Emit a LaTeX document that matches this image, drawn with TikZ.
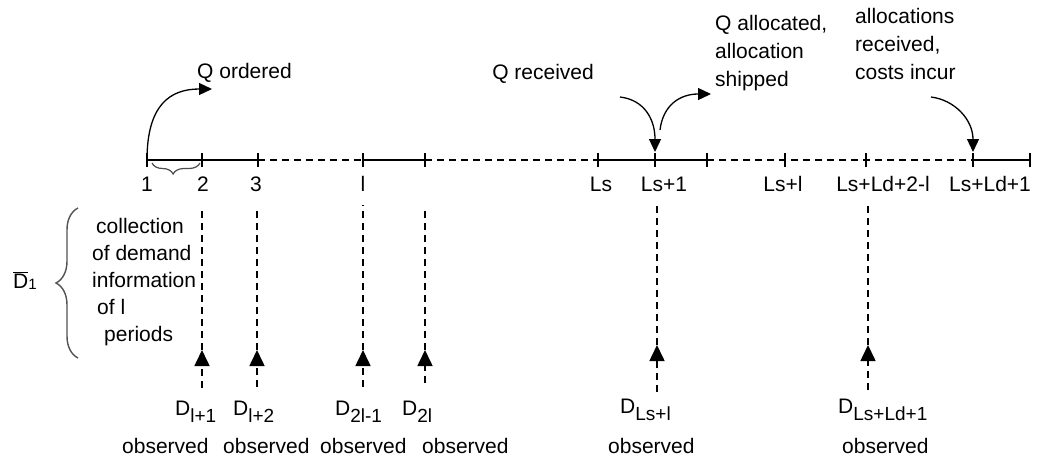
\documentclass[tikz,border=0pt]{standalone}
\usepackage{fontspec}
\setmainfont{Liberation Sans}
\usetikzlibrary{arrows.meta,decorations.pathreplacing}
% lowered subscript in the same text face
\newcommand\lowsub[2][-7pt]{\raisebox{#1}{\fontsize{19}{19}\selectfont #2}}
\begin{document}
\begin{tikzpicture}[x=1pt,y=-1pt,
  every node/.style={inner sep=0pt,font=\fontsize{21}{28}\selectfont},
  axisline/.style={line width=1.8pt},
  gapline/.style={line width=1.5pt,dash pattern=on 7pt off 5pt},
  tickmark/.style={line width=1.5pt},
  dropline/.style={line width=1.6pt,dash pattern=on 7pt off 5pt},
  uparrow/.style={line width=1.6pt,dash pattern=on 7pt off 5pt,-{Triangle[length=16pt,width=15pt]}},
  bendarrow/.style={line width=1.3pt,-{Triangle[length=13pt,width=12pt]}},
  lab/.style={anchor=base},
  bracestyle/.style={decorate,line width=1.4pt},
]
\useasboundingbox (0,0) rectangle (1038,461);

% time axis ticks
\coordinate (t1)    at (147,160);
\coordinate (t2)    at (202,160);
\coordinate (t3)    at (258,160);
\coordinate (tl)    at (363,160);
\coordinate (tm)    at (425,160);
\coordinate (tLs)   at (598,160);
\coordinate (tLs1)  at (655,160);
\coordinate (tn)    at (707,160);
\coordinate (tLsl)  at (785,160);
\coordinate (tq)    at (866,160);
\coordinate (tc)    at (973,160);
\coordinate (tlast) at (1030,160);

% axis: solid and dashed stretches
\draw[axisline] (t1) -- (t3);
\draw[gapline]  (t3) -- (tl);
\draw[axisline] (tl) -- (tm);
\draw[gapline]  (tm) -- (tLs);
\draw[axisline] (tLs) -- (tn);
\draw[gapline]  (tn) -- (tc);
\draw[axisline] (tc) -- (tlast);
\foreach \c in {t1,t2,t3,tl,tm,tLs,tLs1,tn,tLsl,tq,tc,tlast}
  \draw[tickmark] ([yshift=-7pt]\c) -- ([yshift=7pt]\c);

% period labels
\node[lab] (p1)   at (147,191) {1};
\node[lab] (p2)   at (203,191) {2};
\node[lab] (p3)   at (256,191) {3};
\node[lab] (pl)   at (363,191) {l};
\node[lab] (pLs)  at (601,191) {Ls};
\node[lab] (pLs1) at (664,191) {Ls+1};
\node[lab] (pLsl) at (783,191) {Ls+l};
\node[lab] (pq)   at (883,191) {Ls+Ld+2-l};
\node[lab] (pc)   at (990,191) {Ls+Ld+1};

% brace under the first period
\draw[bracestyle,gray!60!black,line width=1.2pt,
  decoration={brace,amplitude=11pt,aspect=0.56}] (200,163) -- (152,163);

% events above the axis
\node[anchor=base west] (qord) at (197,78) {Q ordered};
\node[anchor=base east] (qrec) at (594,79) {Q received};
\node[anchor=north west,align=left] (qall) at (715,15)
  {Q allocated,\\allocation\\shipped};
\node[anchor=north west,align=left] (arec) at (855,8)
  {allocations\\received,\\costs incur};

\coordinate (qoend)  at (212,89);
\coordinate (qrbeg)  at (620,97);
\coordinate (qabeg)  at (660,130);
\coordinate (qaend)  at (711,94);
\coordinate (arbeg)  at (931,97);

\draw[bendarrow] (t1) .. controls (147,105) and (170,89) .. (qoend);
\draw[bendarrow,shorten >=8pt] (qrbeg) .. controls (645,100) and (655,120) .. (tLs1);
\draw[bendarrow] (qabeg) .. controls (663,105) and (680,94) .. (qaend);
\draw[bendarrow,shorten >=8pt] (arbeg) .. controls (955,100) and (973,120) .. (tc);

% demand collection note
\node[anchor=north west,align=left,font=\fontsize{21}{27}\selectfont] (coll) at (92,218)
  {\hspace*{4pt}collection\\of demand\\information\\\hspace*{5pt}of l\\\hspace*{12pt}periods};
\draw[bracestyle,gray!65!black,decoration={brace,amplitude=22pt}] (78,358) -- (78,208);
\node[anchor=base west] (dbar) at (13,288)
  {\(\overline{\hbox{D}}\)\lowsub[-1pt]{\fontsize{15}{15}\selectfont 1}};

% observed demands
\foreach \n/\x/\ytop/\ytip/\ybot in {a/202/207/350/388, b/257/207/350/387,
    c/363/205/350/387, d/425/210/350/383, e/657/205/345/392, f/868/203/345/390}{
  \coordinate (top\n) at (\x,\ytop);
  \coordinate (tip\n) at (\x,\ytip);
  \coordinate (bot\n) at (\x,\ybot);
  \draw[dropline] (tip\n) -- (top\n);
  \draw[uparrow] (bot\n) -- (tip\n);
}

\node[anchor=base west] (da) at (175,415) {D\lowsub{l+1}};
\node[anchor=base west] (db) at (233,415) {D\lowsub{l+2}};
\node[anchor=base west] (dc) at (335,415) {D\lowsub{2l-1}};
\node[anchor=base west] (dd) at (402,415) {D\lowsub{2l}};
\node[anchor=base west] (de) at (620,413) {D\lowsub{Ls+l}};
\node[anchor=base west] (df) at (838,413) {D\lowsub{Ls+Ld+1}};

\node[anchor=base west] (oa) at (122,453) {observed};
\node[anchor=base west] (ob) at (223,453) {observed};
\node[anchor=base west] (oc) at (320,453) {observed};
\node[anchor=base west] (od) at (422,453) {observed};
\node[anchor=base west] (oe) at (608,453) {observed};
\node[anchor=base west] (of) at (842,453) {observed};
\end{tikzpicture}
\end{document}
